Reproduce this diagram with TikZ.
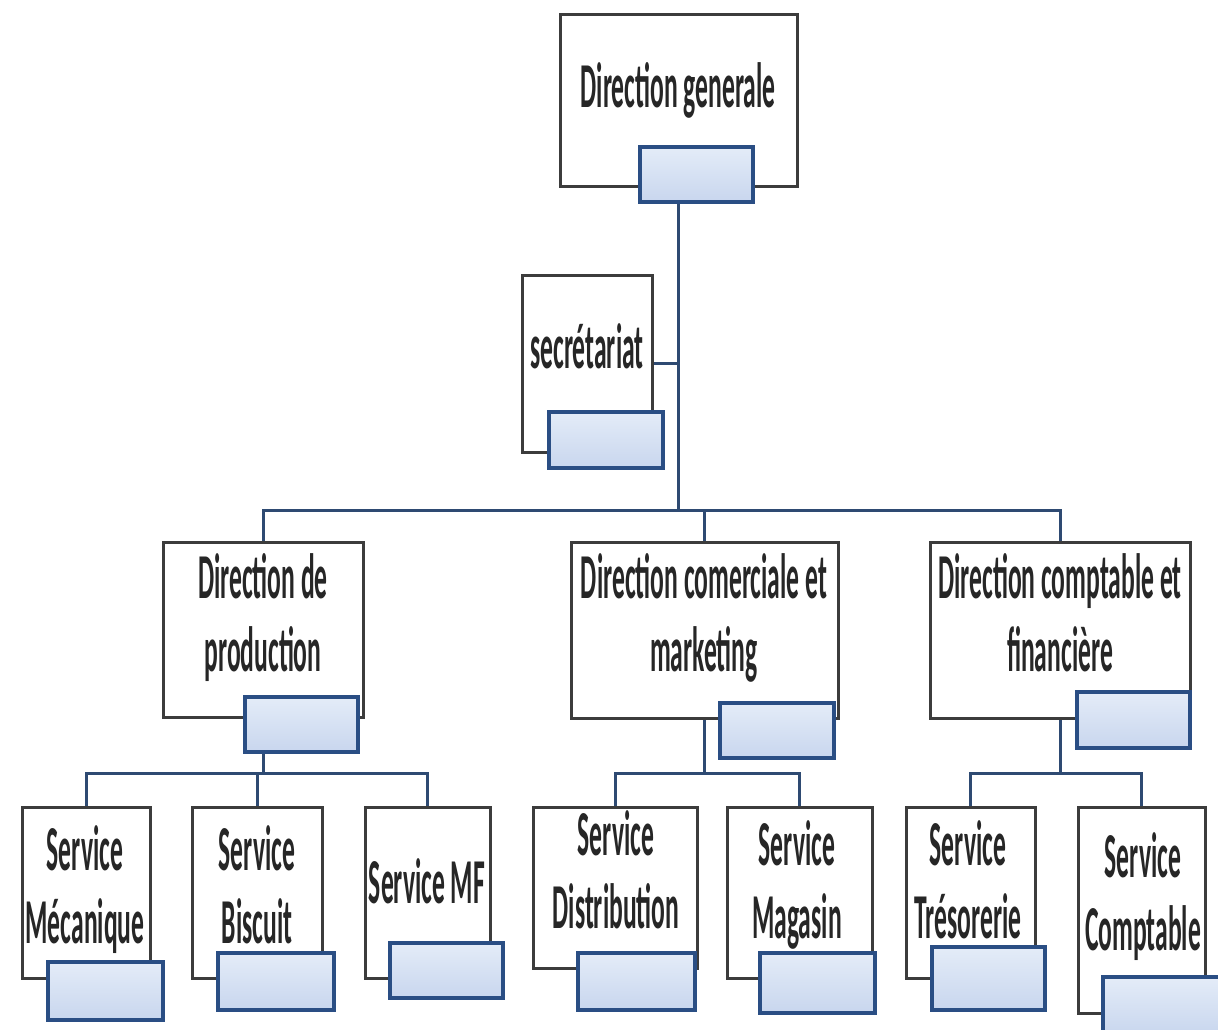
\documentclass[tikz,border=0pt]{standalone}
\usepackage{fontspec}
\setmainfont{Carlito}[FakeStretch=0.40,UprightFont=* Bold]
\pgfdeclarelayer{bg}
\pgfsetlayers{bg,main}
\definecolor{conn}{HTML}{2E4A72}
\definecolor{bord}{HTML}{3C3C3C}
\definecolor{sbord}{HTML}{2A4E84}
\definecolor{sfillA}{HTML}{E4ECF8}
\definecolor{sfillB}{HTML}{C8D6EE}
\tikzset{
  unitbox/.style={draw=bord, fill=white, line width=3pt, inner sep=0pt, outer sep=0pt},
  subbox/.style={draw=sbord, top color=sfillA, bottom color=sfillB, line width=3.5pt, inner sep=0pt, outer sep=0pt},
  link/.style={draw=conn, line width=3pt},
  lbl/.style={anchor=base, inner sep=0pt, font=\fontsize{64}{73}\selectfont, text=black!85}
}
\newcommand\bx[6]{\node[#1, minimum width={#5-#3}, minimum height={#6-#4}] (#2) at ({(#3+#5)/2},{(#4+#6)/2}) {};}
\newcommand\twol[2]{\begin{tabular}[t]{@{}c@{}}#1\\#2\end{tabular}}
\begin{document}
\begin{tikzpicture}[x=1pt,y=-1pt]
\useasboundingbox (0,0) rectangle (1218,1030);
% boxes
\bx{unitbox}{dg}{560}{15}{797}{186}
\bx{subbox}{dgs}{640}{147}{753}{202}
\bx{unitbox}{sec}{522}{275}{652}{452}
\bx{subbox}{secs}{549}{412}{663}{468}
\bx{unitbox}{dp}{163}{542}{363}{717}
\bx{subbox}{dps}{245}{697}{358}{752}
\bx{unitbox}{dc}{571}{542}{838}{718}
\bx{subbox}{dcs}{720}{703}{834}{758}
\bx{unitbox}{df}{930}{542}{1190}{718}
\bx{subbox}{dfs}{1077}{692}{1190}{748}
\bx{unitbox}{sm}{22}{807}{150}{978}
\bx{subbox}{sms}{48}{962}{163}{1020}
\bx{unitbox}{sb}{192}{807}{322}{978}
\bx{subbox}{sbs}{218}{953}{334}{1010}
\bx{unitbox}{smf}{365}{807}{490}{978}
\bx{subbox}{smfs}{390}{943}{503}{998}
\bx{unitbox}{sd}{533}{807}{697}{968}
\bx{subbox}{sds}{578}{953}{695}{1010}
\bx{unitbox}{sg}{727}{807}{872}{978}
\bx{subbox}{sgs}{760}{953}{875}{1013}
\bx{unitbox}{st}{906}{807}{1035}{978}
\bx{subbox}{sts}{932}{947}{1045}{1010}
\bx{unitbox}{sc}{1078}{807}{1205}{1013}
\bx{subbox}{scs}{1103}{977}{1222}{1035}
\coordinate (bus1) at (0,510);
\coordinate (bus2) at (0,773);
% connectors
\begin{pgfonlayer}{bg}
\fill[white] (0,0) rectangle (1218,1030);
\draw[link] (dg.south) -- (dg.south |- bus1);
\draw[link] (sec.east) -- (sec.east -| dg.south);
\draw[link] (dp.north) -- (dp.north |- bus1) -| (df.north);
\draw[link] (dc.north) -- (dc.north |- bus1);
\draw[link] (dp.south) -- (dp.south |- bus2);
\draw[link] (sm.north) -- (sm.north |- bus2) -| (smf.north);
\draw[link] (sb.north) -- (sb.north |- bus2);
\draw[link] (dc.south) -- (dc.south |- bus2);
\draw[link] (sd.north) -- (sd.north |- bus2) -| (sg.north);
\draw[link] (df.south) -- (df.south |- bus2);
\draw[link] (st.north) -- (st.north |- bus2) -| (sc.north);
\end{pgfonlayer}
% labels
\node[lbl] (tdg) at (678,108) {Direction generale};
\node[lbl] (tsec) at (587,368) {secrétariat};
\node[lbl] (tdp) at (263,598) {\twol{Direction de}{production}};
\node[lbl] (tdc) at (704,598) {\twol{Direction comerciale et}{marketing}};
\node[lbl] (tdf) at (1060,598) {\twol{Direction comptable et}{financière}};
\node[lbl] (tsm) at (85,870) {\twol{Service}{Mécanique}};
\node[lbl] (tsb) at (257,870) {\twol{Service}{Biscuit}};
\node[lbl] (tsmf) at (427,903) {Service MF};
\node[lbl] (tsd) at (616,855) {\twol{Service}{Distribution}};
\node[lbl] (tsg) at (797,865) {\twol{Service}{Magasin}};
\node[lbl] (tst) at (968,865) {\twol{Service}{Trésorerie}};
\node[lbl] (tsc) at (1143,877) {\twol{Service}{Comptable}};
\end{tikzpicture}
\end{document}
